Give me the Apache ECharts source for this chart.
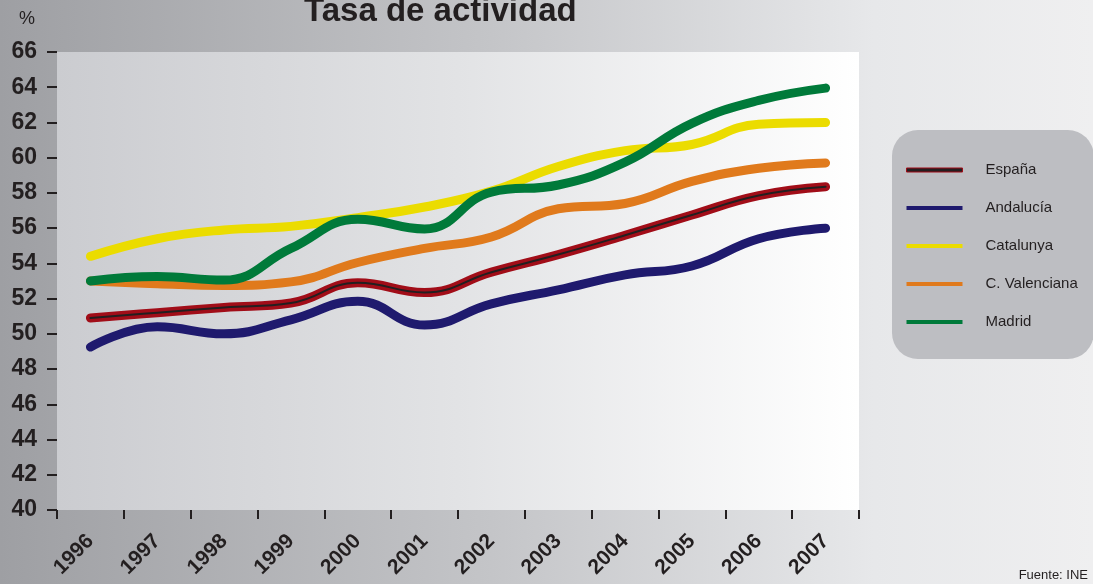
<!DOCTYPE html>
<html>
<head>
<meta charset="utf-8">
<title>Tasa de actividad</title>
<script src="https://cdn.jsdelivr.net/npm/echarts@6/dist/echarts.min.js"></script>
<style>
  html, body { margin: 0; padding: 0; }
  #chart {
    width: 1093px;
    height: 584px;
    background: linear-gradient(to right, #9e9fa3 0%, #c4c5c8 45%, #e7e8ea 80%, #efeff0 100%);
  }
</style>
</head>
<body>
<div id="chart"></div>
<script>
// datos (INE)
const years = ["1996", "1997", "1998", "1999", "2000", "2001", "2002", "2003", "2004", "2005", "2006", "2007"];
const espana = [50.9, 51.2, 51.5, 51.75, 52.9, 52.35, 53.5, 54.5, 55.6, 56.75, 57.85, 58.35];
const andalucia = [49.25, 50.4, 50.0, 50.8, 51.85, 50.5, 51.7, 52.5, 53.35, 53.85, 55.4, 56.0];
const catalunya = [54.4, 55.4, 55.9, 56.1, 56.6, 57.2, 58.1, 59.5, 60.4, 60.75, 61.9, 62.0];
const valenciana = [53.0, 52.85, 52.75, 52.95, 54.05, 54.85, 55.5, 57.1, 57.4, 58.65, 59.4, 59.7];
const madrid = [53.0, 53.25, 53.05, 54.85, 56.5, 55.95, 58.05, 58.45, 59.75, 61.95, 63.25, 63.95];
const yTicks = { min: 40, max: 66, step: 2 };

const font = "Liberation Sans, Arial, sans-serif";
const dark = "#231f20";

const chart = echarts.init(document.getElementById("chart"));

function linea(name, data, color, width, z) {
  return {
    name: name,
    type: "line",
    data: data,
    smooth: 0.45,
    symbol: "none",
    z: z,
    lineStyle: { color: color, width: width, cap: "round", join: "round" },
    itemStyle: { color: color },
    emphasis: { disabled: true },
    animation: false
  };
}

chart.setOption({
  backgroundColor: "transparent",
  textStyle: { fontFamily: font },
  title: {
    text: "Tasa de actividad",
    left: 304,
    top: -5,
    padding: 0,
    textStyle: { fontSize: 33, fontWeight: "bold", color: dark, fontFamily: font }
  },
  grid: {
    left: 57,
    right: 234,
    top: 52,
    bottom: 74,
    show: true,
    borderWidth: 0,
    backgroundColor: new echarts.graphic.LinearGradient(0, 0, 1, 0, [
      { offset: 0, color: "#cbccd0" },
      { offset: 0.5, color: "#e2e3e5" },
      { offset: 1, color: "#ffffff" }
    ])
  },
  legend: {
    orient: "vertical",
    left: 892,
    top: 130,
    padding: [27, 16, 24, 14],
    backgroundColor: "#bdbec2",
    borderRadius: 26,
    icon: "rect",
    itemWidth: 56,
    itemHeight: 4,
    itemGap: 12,
    itemStyle: { borderWidth: 0 },
    textStyle: {
      fontSize: 15,
      color: dark,
      fontFamily: font,
      lineHeight: 18,
      padding: [0, 0, 8, 18]
    },
    data: [
      { name: "España", itemStyle: { color: "#231f20", borderColor: "#a10d18", borderWidth: 1 } },
      { name: "Andalucía" },
      { name: "Catalunya" },
      { name: "C. Valenciana" },
      { name: "Madrid" }
    ]
  },
  xAxis: {
    type: "category",
    data: years,
    boundaryGap: true,
    axisLine: { show: false },
    axisTick: { show: true, length: 9, lineStyle: { color: dark, width: 2 } },
    axisLabel: {
      rotate: 45,
      margin: 28,
      fontSize: 21,
      fontWeight: "bold",
      color: dark,
      fontFamily: font
    },
    splitLine: { show: false }
  },
  yAxis: {
    type: "value",
    min: yTicks.min,
    max: yTicks.max,
    interval: yTicks.step,
    axisLine: { show: false },
    axisTick: { show: true, length: 10, lineStyle: { color: dark, width: 2 } },
    axisLabel: {
      margin: 20,
      fontSize: 23,
      fontWeight: "bold",
      color: dark,
      fontFamily: font,
      padding: [0, 0, 7, 0]
    },
    splitLine: { show: false }
  },
  graphic: [
    {
      type: "text",
      left: 19,
      top: 10,
      style: { text: "%", fontSize: 18, fill: dark, fontFamily: font }
    },
    {
      type: "text",
      right: 5,
      top: 569,
      style: { text: "Fuente: INE", fontSize: 13, fill: dark, fontFamily: font }
    }
  ],
  series: [
    linea("Catalunya", catalunya, "#ebdc00", 9, 2),
    linea("C. Valenciana", valenciana, "#e07a1c", 9, 3),
    linea("Madrid", madrid, "#007a3a", 9, 4),
    linea("Andalucía", andalucia, "#1f1a6e", 9, 5),
    linea("España", espana, "#a10d18", 9, 6),
    linea("España (linea)", espana, "#231f20", 2, 7)
  ]
});
</script>
</body>
</html>
